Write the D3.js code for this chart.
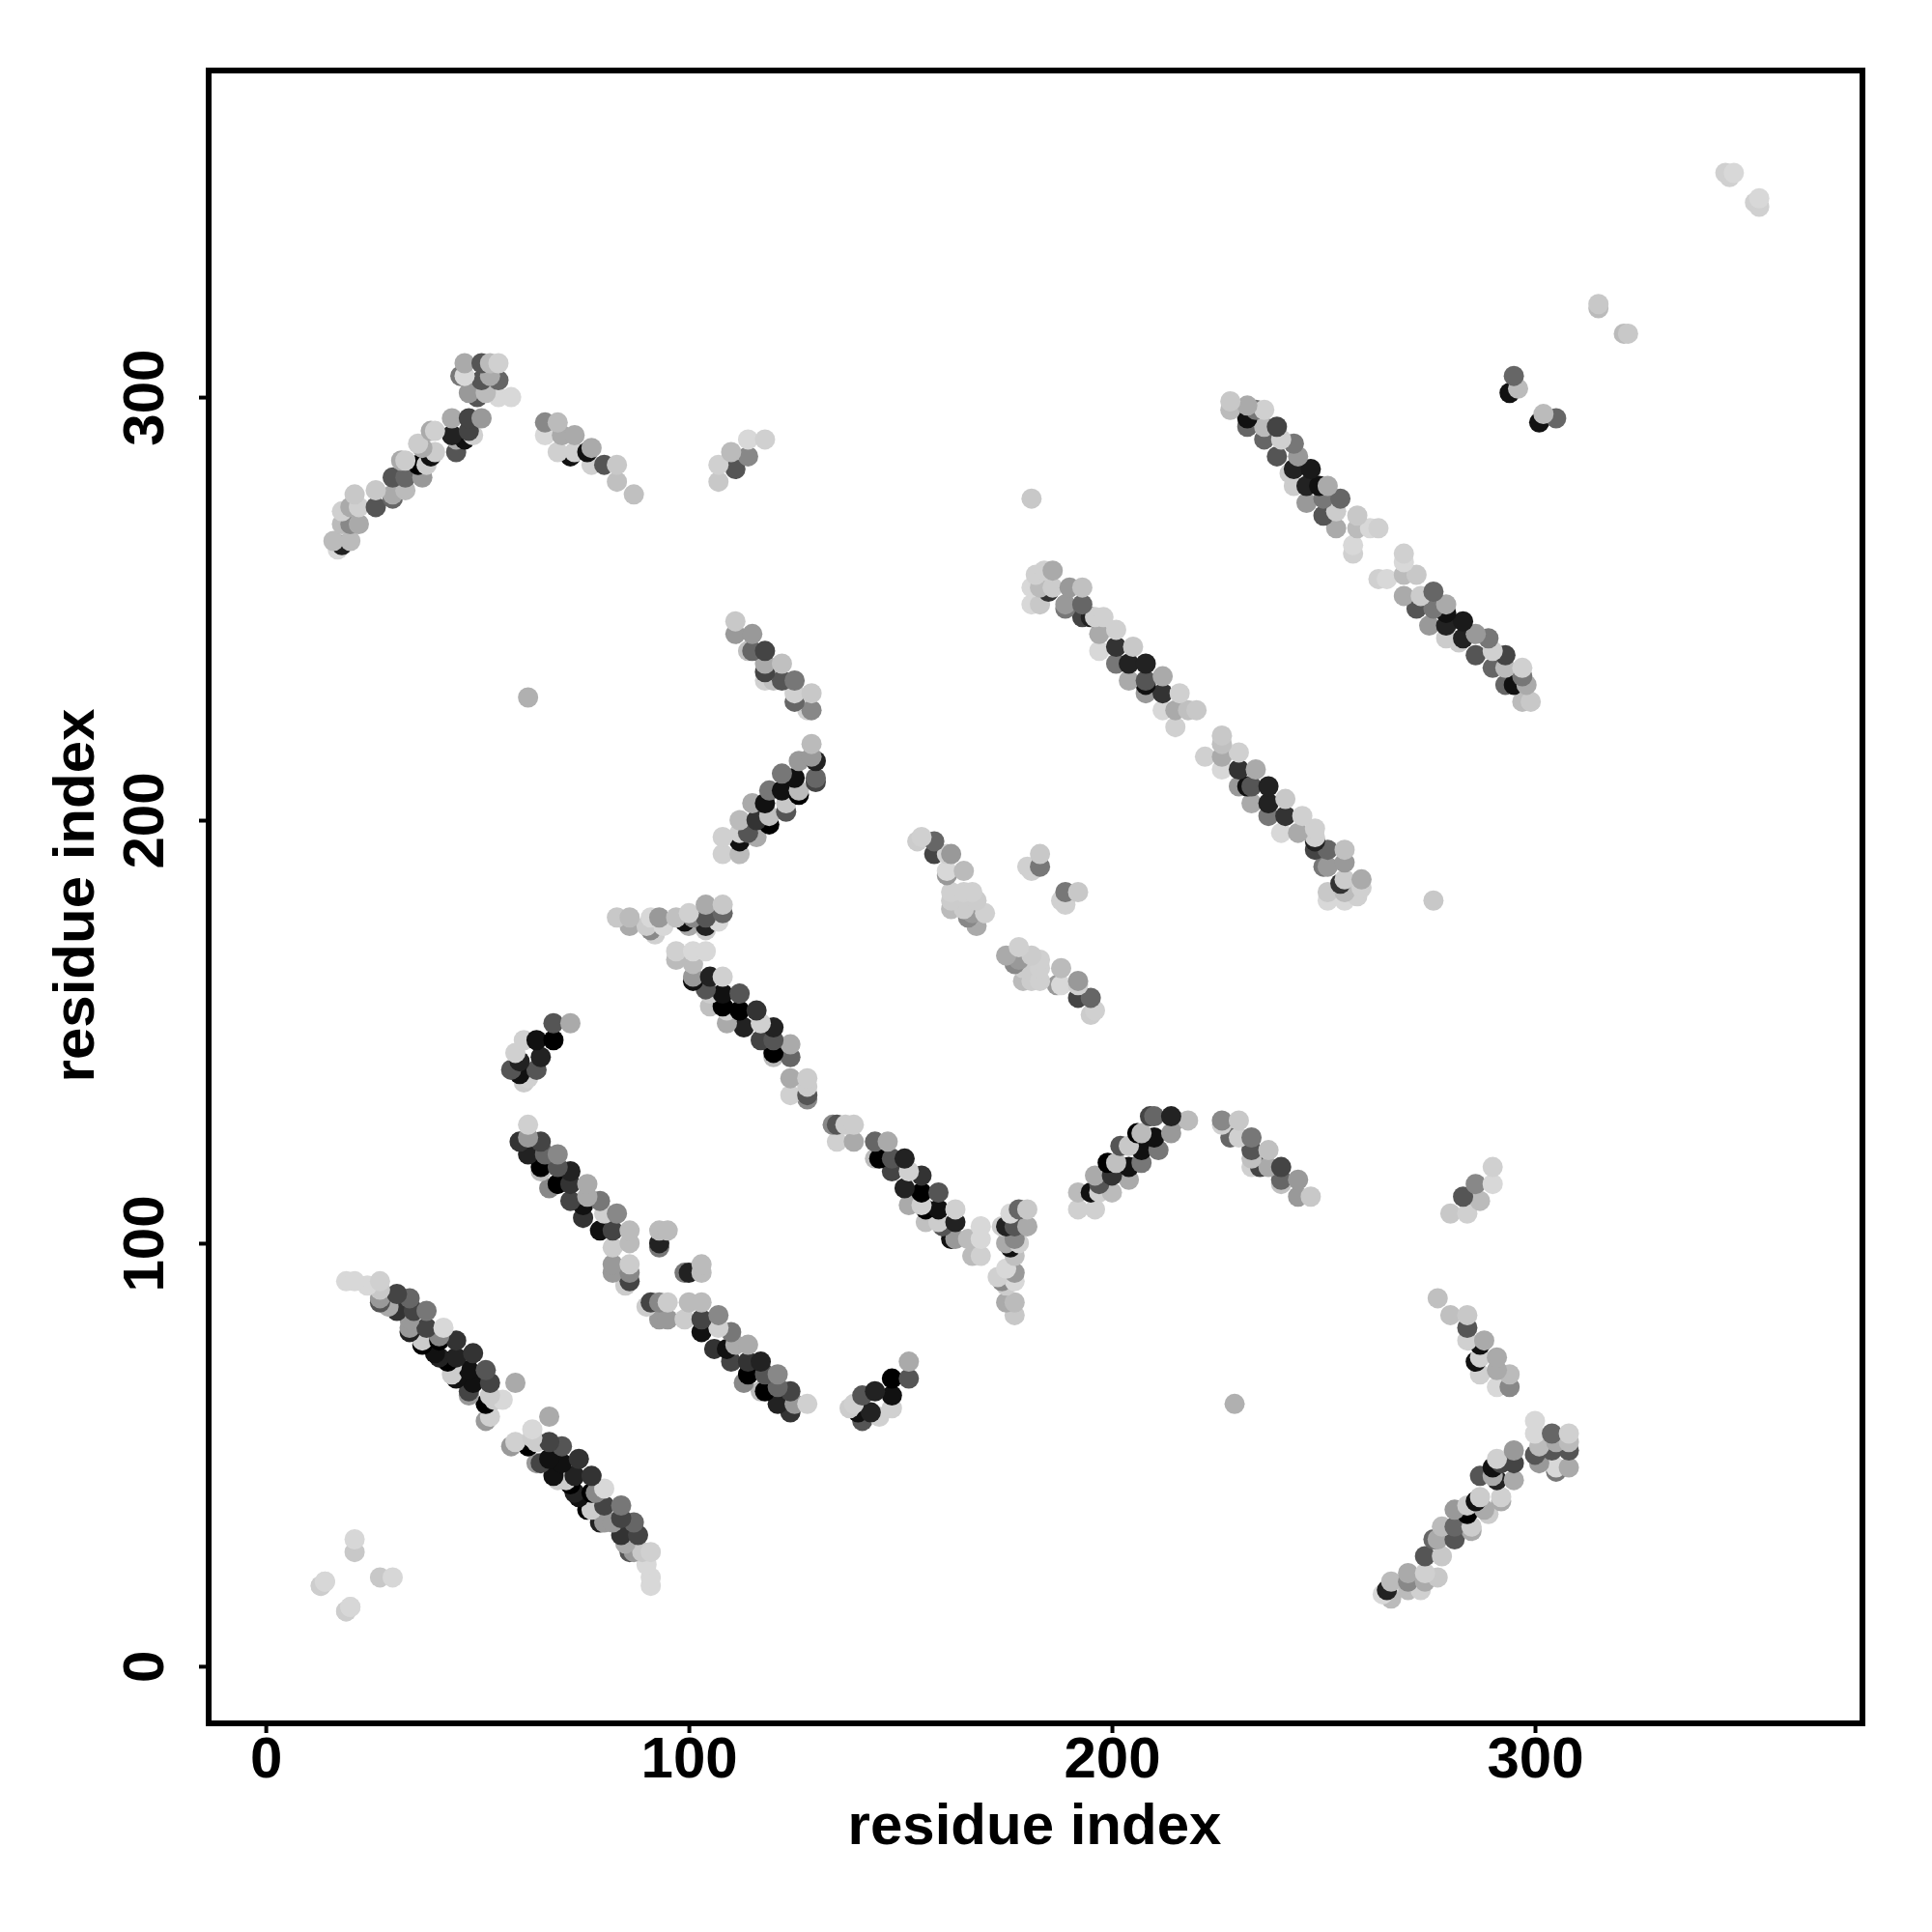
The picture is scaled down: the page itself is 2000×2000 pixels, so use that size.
<!DOCTYPE html>
<html><head><meta charset="utf-8">
<script src="https://cdnjs.cloudflare.com/ajax/libs/d3/7.9.0/d3.min.js"></script>
<style>html,body{margin:0;background:#fff}svg{display:block}</style></head>
<body><svg id="c" width="2000" height="2000"></svg>
<script>
// contacts as [residue i, residue j, gray level]; the map is symmetric
const nearCorner=[[13,19,205],[14,20,215],[19,13,205],[20,14,215],[21,27,200],[21,30,215]];
const strandA=[[19,91,216],[21,91,216],[24,90,216],[27,91,208],[27,89,200],[27,87,153],[27,86,85],
[31,88,68],[34,87,102],[29,85,170],[31,84,51],[35,84,68],[38,84,119],[34,82,153],[34,80,153],[38,80,68],[34,79,34],[42,80,216],
[37,77,204],[37,76,0],[41,78,136],[41,77,0],[45,77,51],[40,74,17],[41,73,34],[45,73,34],[44,71,204],[49,74,51],[43,72,0],
[48,70,17],[52,70,85],[44,69,204],[45,68,17],[49,67,17],[53,67,68],[48,65,68],[48,64,153],[53,64,204],[52,62,0],[56,63,216],[54,63,204],
[53,59,208],[52,58,153],[59,67,170]];
const strandB=[[62,128,208],[62,125,153],[60,124,51],[65,124,68],[62,121,34],[66,121,102],[69,121,136],[65,118,0],[65,117,187],
[69,118,85],[72,117,34],[69,114,0],[72,114,51],[67,113,136],[76,114,170],[76,111,170],[79,110,119],[72,110,68],[75,109,17],
[75,106,51],[80,107,208],[83,107,136],[79,103,17],[82,103,68],[86,103,187],[82,99,204],[86,100,187],[82,95,153],[82,93,153],
[86,95,204],[86,93,136],[86,91,68],[85,90,204],[93,103,187],[95,103,187],[93,100,34],[93,99,119]];
const strandC=[[72,152,170],[68,152,85],[68,148,0],[64,148,17],[61,148,208],[65,144,34],[64,141,85],[62,139,208],[60,143,34],
[59,145,208],[58,141,85],[60,140,17],[61,138,204]];
const strandD=[[97,169,208],[97,167,187],[101,169,216],[104,169,216],[101,166,187],[101,163,153],[101,162,17],[105,163,34],[108,163,208],
[104,160,85],[105,159,204],[108,159,17],[112,159,85],[105,156,192],[108,156,0],[109,155,208],[112,155,0],[116,155,51],[109,152,170],
[113,151,34],[117,152,208],[120,151,34],[117,148,68],[120,148,85],[124,147,170],[124,144,102],[120,144,187],[120,145,0],[124,139,170],
[128,139,204],[124,135,208],[128,137,204],[128,135,85],[128,134,136]];
const strandE=[[83,177,200],[86,177,187],[86,175,170],[91,177,216],[93,177,153],[90,175,204],[92,173,208],[91,174,136],[94,175,216],
[97,177,192],[100,178,208],[101,177,136],[99,176,17],[100,175,170],[104,180,170],[108,180,200],[104,177,85],[108,178,102],[107,176,216],[104,175,34],[104,174,204]];
const strandF=[[129,218,187],[130,214,34],[129,215,153],[126,214,153],[130,210,102],[130,209,68],[125,210,17],[122,211,119],[126,207,187],[126,206,0],
[122,207,17],[119,207,119],[115,204,170],[118,204,17],[123,204,200],[123,202,85],[116,200,51],[119,201,192],[119,199,0],[112,200,187],
[116,196,170],[112,197,208],[112,195,17],[108,196,208],[112,192,187],[108,192,208],[114,197,85]];
const strandG=[[111,247,200],[111,244,153],[115,244,153],[114,240,192],[115,240,102],[118,240,68],[118,237,170],[118,235,68],[122,237,192],
[118,233,208],[122,233,85],[120,233,192],[125,233,119],[125,230,208],[125,228,102],[129,230,200],[129,226,136],[128,226,208]];
const strandI=[[154,195,204],[155,196,208],[158,195,102],[158,192,68],[162,192,153],[161,192,208],[161,188,216],[161,187,153],[165,188,187],
[162,183,208],[162,181,204],[162,179,187],[165,183,208],[167,183,208],[165,179,204],[168,181,204],[167,178,153],[170,178,208],[168,175,170],[166,177,136]];
const pairsMid=[[183,192,200],[183,189,119],[180,189,208],[181,188,208],[181,276,200],[62,229,176]];
const strandJ=[[186,259,170],[184,259,208],[182,258,208],[181,255,216],[183,255,187],[186,255,204],[185,254,51],[181,251,216],[183,251,200],
[190,255,153],[193,255,192],[189,251,153],[189,250,119],[193,251,102],[193,248,68],[196,248,208],[195,248,34],[198,248,208],[197,244,170],[201,245,208],
[197,240,216],[201,241,51],[205,241,200],[201,237,119],[204,237,34],[208,237,34],[204,233,170],[208,233,85],[208,232,17],[212,234,170],
[208,230,153],[212,230,51],[216,230,208],[212,226,216],[215,226,170],[220,226,200],[218,226,192],[215,222,208]];
const strandL=[[228,299,200],[228,297,187],[232,298,170],[236,297,208],[234,297,119],[232,295,17],[232,293,102],[236,293,187],[239,293,68],[236,290,102],
[240,290,208],[243,289,119],[244,286,153],[239,286,85],[243,283,34],[247,283,26],[242,282,204],[243,279,204],[246,279,34],[251,279,170],
[249,279,17],[254,276,102],[246,275,153],[250,276,119],[250,272,85],[253,273,204],[258,272,200],[253,269,170],[258,269,187],[257,265,216],
[257,263,208],[261,269,216],[263,269,208]];
const cornerTop=[[17,264,216],[16,266,187],[20,266,187],[18,265,34],[18,270,187],[20,270,136],[22,270,170],[18,273,208],[20,274,170],[22,274,208],
[21,277,200],[26,278,200],[26,274,85],[30,277,170],[30,276,102],[33,278,187],[30,281,85],[33,281,102],[37,281,153],[33,285,204],[32,285,170],
[36,284,0],[38,284,204],[37,288,170],[36,289,204],[40,287,204],[39,286,17],[40,292,208],[39,292,170],[45,287,85],[44,291,34],[45,290,170],
[49,291,208],[47,290,17],[44,295,170],[48,295,68],[51,295,153],[48,292,68],[47,308,170],[51,308,85],[55,308,208],[53,308,187],[47,305,216],
[46,305,119],[51,304,85],[55,304,102],[53,305,170],[48,301,153],[52,301,187],[50,300,85],[55,300,216],[58,300,216]];
const upperMid=[[66,294,136],[69,294,187],[66,291,216],[70,291,170],[73,291,170],[69,287,208],[73,287,208],[72,286,17],[77,288,170],[76,287,17],
[77,284,208],[80,284,85],[83,284,200],[83,280,192],[87,277,192],[107,284,208],[107,280,200],[110,287,187],[114,286,136],[111,283,85],[114,290,216],[118,290,208]];
const farEnd=[[295,305,102],[296,302,187],[294,301,17],[315,322,200],[315,321,187],[345,353,208],[347,353,216],[346,352,208]];
const tickValues=[0,100,200,300];
const axisTitle="residue index";

const contacts=[nearCorner,strandA,strandB,strandC,strandD,strandE,strandF,strandG,strandI,pairsMid,strandJ,strandL,cornerTop,upperMid,farEnd].flat();
const points=contacts.flatMap(([i,j,g])=>[{x:i,y:j,g},{x:j,y:i,g}])
  .sort((a,b)=>d3.ascending(a.y,b.y)||d3.ascending(a.x,b.x));

const L=216,R=1928,T=73,B=1784;
const x=d3.scaleLinear().domain([-13.5,377.4]).range([L,R]);
const y=d3.scaleLinear().domain([-13.5,377.2]).range([B,T]);
const svg=d3.select("#c");
svg.append("rect").attr("width",2000).attr("height",2000).attr("fill","#fff");
svg.append("g").selectAll("circle").data(points).join("circle")
  .attr("cx",d=>x(d.x)).attr("cy",d=>y(d.y)).attr("r",10.5)
  .attr("fill",d=>d3.rgb(d.g,d.g,d.g).formatHex());
svg.append("rect").attr("x",L).attr("y",T).attr("width",R-L).attr("height",B-T)
  .attr("fill","none").attr("stroke","#000").attr("stroke-width",6);
const font="'Liberation Sans',Arial,sans-serif";
const ax=svg.append("g").attr("transform",`translate(0,${B})`)
  .call(d3.axisBottom(x).tickValues(tickValues).tickSize(10).tickPadding(2).tickFormat(d3.format("d")));
const ay=svg.append("g").attr("transform",`translate(${L},0)`)
  .call(d3.axisLeft(y).tickValues(tickValues).tickSize(10).tickPadding(0).tickFormat(d3.format("d")));
[ax,ay].forEach(a=>{a.select(".domain").remove();a.selectAll("line").attr("stroke","#000").attr("stroke-width",4);
  a.selectAll("text").attr("font-family",font).attr("font-weight","bold").attr("font-size",60).attr("fill","#000");});
ax.selectAll("text").attr("dy",null).attr("y",13).attr("dominant-baseline","hanging").attr("text-anchor","middle");
ay.selectAll("text").attr("x",null).attr("dy",null).attr("text-anchor","middle")
  .attr("transform",function(){return `translate(-47,0) rotate(-90)`;}).attr("y",0);
svg.append("text").text(axisTitle).attr("x",1071).attr("y",1909).attr("text-anchor","middle")
  .attr("font-family",font).attr("font-weight","bold").attr("font-size",60);
svg.append("text").text(axisTitle).attr("transform","translate(97,927) rotate(-90)").attr("text-anchor","middle")
  .attr("font-family",font).attr("font-weight","bold").attr("font-size",60);
</script></body></html>
